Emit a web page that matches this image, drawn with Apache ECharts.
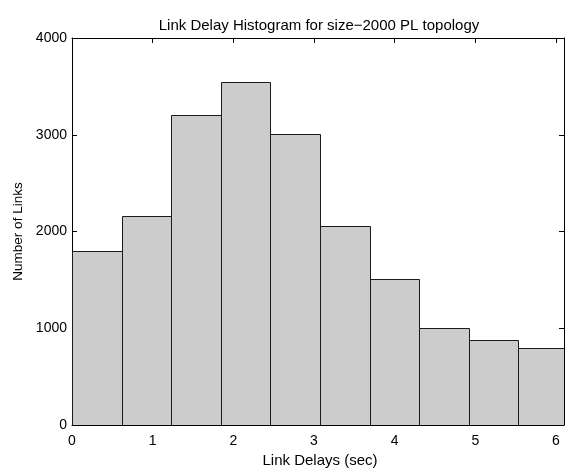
<!DOCTYPE html>
<html>
<head>
<meta charset="utf-8">
<script src="https://cdn.jsdelivr.net/npm/echarts@6/dist/echarts.min.js"></script>
<style>
html,body{margin:0;padding:0;background:#fff;}
#c{width:568px;height:468px;}
</style>
</head>
<body>
<div id="c"></div>
<script>
// Histogram bin edges (sec) and counts per bin
const binEdges = [0, 0.615, 1.23, 1.845, 2.46, 3.075, 3.69, 4.305, 4.92, 5.535, 6.15];
const counts = [1800, 2160, 3205, 3550, 3005, 2060, 1505, 1005, 875, 800];
const xTicks = [0, 1, 2, 3, 4, 5, 6];
const yTicks = [0, 1000, 2000, 3000, 4000];
const titleText = 'Link Delay Histogram for size\u22122000 PL topology';
const xName = 'Link Delays (sec)';
const yName = 'Number of Links';

const data = counts.map((c, i) => [binEdges[i], binEdges[i + 1], c]);

const FONT = 'Liberation Sans, Arial, Helvetica, sans-serif';
const chart = echarts.init(document.getElementById('c'), null, {renderer: 'canvas'});

const axisCommon = {
  axisLine: {show: true, onZero: false, lineStyle: {color: '#000', width: 1}},
  axisTick: {show: true, inside: true, length: 5, lineStyle: {color: '#000'}},
  splitLine: {show: false}
};

chart.setOption({
  animation: false,
  backgroundColor: '#fff',
  title: {
    text: titleText,
    left: 314, top: 13, textAlign: 'center',
    textStyle: {fontFamily: FONT, fontSize: 15, fontWeight: 'normal', color: '#000'}
  },
  grid: {left: 72, right: 4, top: 38, bottom: 43, containLabel: false, outerBoundsMode: 'none'},
  xAxis: [
    Object.assign({
      type: 'value', min: 0, max: 6.1, interval: 1, position: 'bottom',
      name: xName, nameLocation: 'middle', nameGap: 24,
      nameTextStyle: {fontFamily: FONT, fontSize: 15, color: '#000', padding: [0, 0, 0, 4]},
      axisLabel: {
        fontFamily: FONT, fontSize: 14, color: '#000', margin: 9,
        showMaxLabel: true,
        formatter: v => (xTicks.indexOf(v) >= 0 ? String(v) : '')
      }
    }, axisCommon),
    Object.assign({
      type: 'value', min: 0, max: 6.1, interval: 1, position: 'top',
      axisLabel: {show: false}
    }, axisCommon)
  ],
  yAxis: [
    Object.assign({
      type: 'value', min: 0, max: 4000, interval: 1000, position: 'left',
      name: yName, nameLocation: 'middle', nameGap: 46,
      nameTextStyle: {fontFamily: FONT, fontSize: 13.5, color: '#000'},
      axisLabel: {
        fontFamily: FONT, fontSize: 14, color: '#000', margin: 5,
        formatter: v => (yTicks.indexOf(v) >= 0 ? String(v) : '')
      }
    }, axisCommon),
    Object.assign({
      type: 'value', min: 0, max: 4000, interval: 1000, position: 'right',
      axisLabel: {show: false}
    }, axisCommon)
  ],
  series: [{
    type: 'custom',
    xAxisIndex: 0, yAxisIndex: 0,
    clip: true,
    data: data,
    encode: {x: [0, 1], y: 2},
    renderItem: function (params, api) {
      const pTop = api.coord([api.value(0), api.value(2)]);
      const pBot = api.coord([api.value(1), 0]);
      const x0 = Math.round(pTop[0]) + 0.5;
      const x1 = Math.round(pBot[0]) + 0.5;
      const y0 = Math.round(pTop[1]) + 0.5;
      const y1 = Math.round(pBot[1]) + 0.5;
      return {
        type: 'rect',
        shape: {x: x0, y: y0, width: x1 - x0, height: y1 - y0},
        style: {fill: '#cccccc', stroke: '#1a1a1a', lineWidth: 1}
      };
    }
  }]
});
</script>
</body>
</html>
